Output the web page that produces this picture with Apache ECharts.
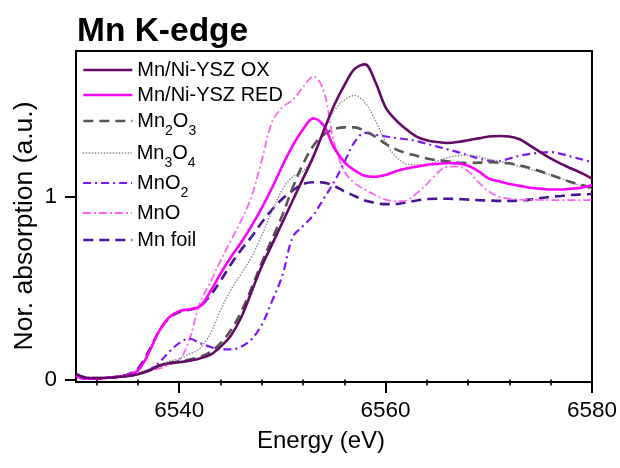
<!DOCTYPE html>
<html>
<head>
<meta charset="utf-8">
<script src="https://cdn.jsdelivr.net/npm/echarts@6/dist/echarts.min.js"></script>
<style>html,body{margin:0;padding:0;background:#fff}#c{width:620px;height:468px}</style>
</head>
<body>
<div id="c"></div>
<script>
const energy = [6530,6531,6532,6533,6534,6535,6536,6537,6538,6539,
  6540,6541,6542,6543,6544,6545,6546,6547,6548,6549,
  6550,6551,6552,6553,6554,6555,6556,6557,6558,6559,
  6560,6561,6562,6563,6564,6565,6566,6567,6568,6569,
  6570,6571,6572,6573,6574,6575,6576,6577,6578,6579,6580];

const seriesNames = ['Mn/Ni-YSZ OX','Mn/Ni-YSZ RED','Mn2O3','Mn3O4','MnO2','MnO','Mn foil'];

const ox = [0.03,0.01,0.008,0.01,0.014,0.02,0.03,0.047,0.075,0.09,
  0.095,0.104,0.116,0.135,0.18,0.24,0.34,0.48,0.62,0.74,
  0.86,0.98,1.1,1.22,1.36,1.5,1.61,1.70,1.725,1.63,
  1.49,1.42,1.37,1.33,1.31,1.30,1.295,1.30,1.31,1.32,
  1.33,1.333,1.33,1.315,1.28,1.245,1.21,1.18,1.155,1.13,1.10];

const red = [0.02,0.005,0.005,0.01,0.014,0.025,0.05,0.14,0.26,0.34,
  0.375,0.385,0.40,0.48,0.58,0.67,0.75,0.84,0.94,1.05,
  1.17,1.28,1.37,1.43,1.39,1.27,1.19,1.145,1.115,1.11,
  1.12,1.14,1.155,1.165,1.175,1.18,1.185,1.183,1.17,1.14,
  1.10,1.085,1.07,1.06,1.05,1.045,1.04,1.04,1.045,1.05,1.065];

const mn2o3 = [0.02,0.01,0.008,0.01,0.015,0.02,0.03,0.05,0.075,0.09,
  0.10,0.11,0.125,0.15,0.2,0.27,0.37,0.5,0.64,0.77,
  0.9,1.05,1.18,1.28,1.34,1.37,1.38,1.38,1.36,1.33,
  1.29,1.26,1.24,1.225,1.21,1.2,1.195,1.188,1.185,1.187,
  1.19,1.187,1.183,1.172,1.158,1.14,1.12,1.1,1.08,1.065,1.05];

const mn3o4 = [0.02,0.01,0.008,0.01,0.015,0.022,0.035,0.055,0.08,0.1,
  0.115,0.14,0.17,0.25,0.38,0.49,0.58,0.67,0.79,0.92,
  1.04,1.11,1.14,1.22,1.37,1.47,1.53,1.555,1.515,1.42,
  1.30,1.22,1.18,1.175,1.178,1.195,1.215,1.225,1.228,1.222,
  1.205,1.195,1.185,1.165,1.15,1.135,1.12,1.1,1.08,1.06,1.04];

const mno2 = [0.02,0.01,0.008,0.01,0.015,0.02,0.03,0.05,0.09,0.15,
  0.2,0.224,0.2,0.18,0.165,0.165,0.18,0.22,0.3,0.43,
  0.57,0.78,0.84,0.9,0.99,1.08,1.19,1.3,1.35,1.34,
  1.33,1.322,1.315,1.305,1.29,1.275,1.26,1.245,1.228,1.21,
  1.198,1.195,1.21,1.225,1.235,1.242,1.245,1.235,1.22,1.205,1.19];

const mno = [0.02,0.01,0.008,0.01,0.014,0.02,0.03,0.045,0.06,0.08,
  0.105,0.22,0.42,0.53,0.65,0.76,0.87,1.0,1.2,1.41,
  1.49,1.53,1.6,1.66,1.58,1.3,1.14,1.075,1.04,1.01,
  0.985,0.975,0.98,1.02,1.07,1.13,1.165,1.165,1.14,1.08,
  1.03,1.0,0.99,0.985,0.983,0.983,0.982,0.982,0.982,0.982,0.984];

const mnFoil = [0.03,0.01,0.006,0.01,0.015,0.028,0.06,0.15,0.26,0.335,
  0.37,0.382,0.40,0.46,0.54,0.63,0.71,0.78,0.86,0.93,
  0.99,1.035,1.07,1.08,1.078,1.06,1.03,1.005,0.98,0.967,
  0.96,0.96,0.97,0.98,0.988,0.99,0.99,0.988,0.985,0.982,
  0.98,0.978,0.978,0.98,0.985,0.993,1.0,1.005,1.01,1.013,1.016];

const xMajorTicks = [6540,6560,6580];
const xMinorTicks = [6532,6536,6544,6548,6552,6556,6564,6568,6572,6576];
const yTicks = [0,1];

const values = [ox, red, mn2o3, mn3o4, mno2, mno, mnFoil];
const styles = [
  {color:'#640a66', width:2.6, type:'solid'},
  {color:'#ff00ff', width:2.6, type:'solid'},
  {color:'#555555', width:2.6, type:[10,6]},
  {color:'#8c8c8c', width:1.4, type:[1.5,1.5]},
  {color:'#7f14ff', width:2.2, type:[8,4,2,4]},
  {color:'#ff66f0', width:1.8, type:[8,3,2,3]},
  {color:'#4a1590', width:2.6, type:[10,6]}
];
const legendCenters = [70,95,121,153,183,213,240];

const FONT = "'Liberation Sans', Arial, sans-serif";

const series = seriesNames.map((n,k)=>({
  name:n, type:'line', xAxisIndex:0, yAxisIndex:0,
  data: energy.map((e,i)=>[e, values[k][i]]),
  symbol:'none', smooth:0.35,
  lineStyle:{color:styles[k].color, width:styles[k].width, type:styles[k].type, cap:'butt'},
  itemStyle:{color:styles[k].color},
  z: 10 - k
}));

const legends = seriesNames.map((n,k)=>{
  const hasSub = /\d/.test(n);
  const h = hasSub ? 34 : 20;
  return {
    data:[n], orient:'vertical', left:82, top: legendCenters[k] - h/2,
    padding:0, itemWidth:49, itemHeight:14, itemGap:0, selectedMode:false,
    itemStyle:{opacity:0},
    lineStyle:{width:styles[k].width, color:styles[k].color, type:styles[k].type, cap:'butt'},
    formatter: (name)=> name.replace(/(\d)/g, '{s|$1}'),
    textStyle:{fontSize:20, lineHeight:20, fontFamily:FONT, color:'#000',
      rich:{s:{fontSize:14, lineHeight:14, padding:[20,0,0,0], fontFamily:FONT, color:'#000'}}}
  };
});

const chart = echarts.init(document.getElementById('c'), null, {renderer:'canvas'});
chart.setOption({
  animation:false,
  backgroundColor:'#fff',
  grid:{left:76, right:28, top:51, bottom:86, show:true, borderColor:'#000', borderWidth:2, backgroundColor:'transparent'},
  xAxis:[
    {type:'value', min:6530, max:6580, position:'bottom',
     axisLine:{show:true, onZero:false, lineStyle:{color:'#000', width:2}},
     axisTick:{show:true, customValues:xMajorTicks, length:11, lineStyle:{color:'#000', width:2}},
     axisLabel:{customValues:xMajorTicks, fontSize:22.5, fontFamily:FONT, color:'#000', margin:17,
       formatter:(v)=>String(v)},
     splitLine:{show:false}},
    {type:'value', min:6530, max:6580, position:'bottom',
     axisLine:{show:false},
     axisTick:{show:true, customValues:xMinorTicks, length:6, lineStyle:{color:'#000', width:1.6}},
     axisLabel:{show:false}, splitLine:{show:false}}
  ],
  yAxis:{type:'value', min:-0.013, max:1.798,
     axisLine:{show:true, onZero:false, lineStyle:{color:'#000', width:2}},
     axisTick:{show:true, customValues:yTicks, length:11, lineStyle:{color:'#000', width:2}},
     axisLabel:{customValues:yTicks, fontSize:22.5, fontFamily:FONT, color:'#000', margin:19,
       formatter:(v)=>String(v)},
     splitLine:{show:false}},
  legend: legends,
  series: series,
  graphic:[
    {type:'text', left:77, top:15, style:{text:'Mn K-edge', font:"bold 33.5px 'Liberation Sans', Arial, sans-serif", fill:'#000'}},
    {type:'text', x:321, y:441, style:{text:'Energy (eV)', font:"24px 'Liberation Sans', Arial, sans-serif", fill:'#000', textAlign:'center', textVerticalAlign:'middle'}},
    {type:'text', x:25, y:226, rotation:Math.PI/2, style:{text:'Nor. absorption (a.u.)', font:"26.5px 'Liberation Sans', Arial, sans-serif", fill:'#000', textAlign:'center', textVerticalAlign:'middle'}}
  ]
});
</script>
</body>
</html>
